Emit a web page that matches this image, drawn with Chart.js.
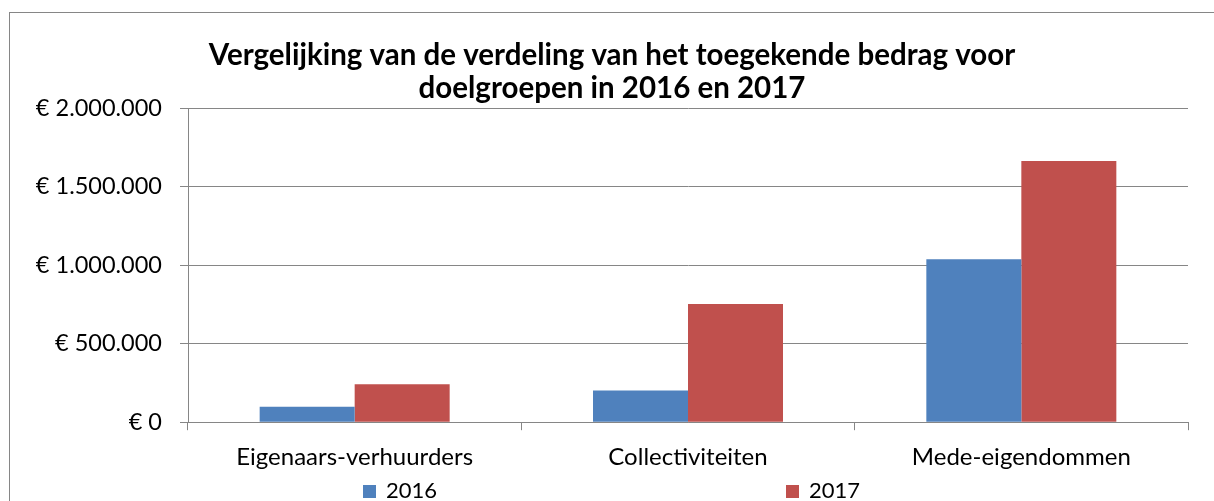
<!DOCTYPE html>
<html>
<head>
<meta charset="utf-8">
<script src="https://cdn.jsdelivr.net/npm/chart.js@4/dist/chart.umd.min.js"></script>
<style>
  html, body { margin: 0; padding: 0; background: #fff; }
  #wrap { width: 1214px; height: 501px; }
</style>
</head>
<body>
<div id="wrap"><canvas id="barChart" width="1214" height="501"></canvas></div>
<script>
var categories = ["Eigenaars-verhuurders", "Collectiviteiten", "Mede-eigendommen"];
var values2016 = [99000, 202000, 1038000];
var values2017 = [241000, 753000, 1663000];
var seriesNames = ["2016", "2017"];
var seriesColors = ["#4F81BD", "#C0504D"];
var titleLines = ["Vergelijking van de verdeling van het toegekende bedrag voor", "doelgroepen in 2016 en 2017"];

Chart.defaults.font.family = "Lato";
Chart.defaults.color = "#000";

function euro(v) {
  var s = String(Math.round(v)).replace(/\B(?=(\d{3})+(?!\d))/g, ".");
  return "€ " + s;
}

// outer frame of the chart object
var framePlugin = {
  id: "frame",
  beforeDraw: function (chart) {
    var ctx = chart.ctx;
    ctx.save();
    ctx.strokeStyle = "#868686";
    ctx.lineWidth = 1;
    ctx.strokeRect(9.5, 12.5, chart.width + 20, chart.height + 20);
    ctx.restore();
  }
};

// Excel style legend with the two entries spread far apart
var spreadLegend = {
  id: "spreadLegend",
  afterDraw: function (chart) {
    var ctx = chart.ctx;
    var area = chart.chartArea;
    var xs = [area.left + 175, area.left + 598];
    var y = chart.height - 10;
    ctx.save();
    ctx.font = "22px Lato";
    ctx.textBaseline = "middle";
    chart.data.datasets.forEach(function (ds, i) {
      ctx.fillStyle = ds.backgroundColor;
      ctx.fillRect(xs[i], y - 6, 13, 13);
      ctx.fillStyle = "#000";
      ctx.fillText(ds.label, xs[i] + 23, y);
    });
    ctx.restore();
  }
};

new Chart(document.getElementById("barChart"), {
  type: "bar",
  data: {
    labels: categories,
    datasets: [
      { label: seriesNames[0], data: values2016, backgroundColor: seriesColors[0] },
      { label: seriesNames[1], data: values2017, backgroundColor: seriesColors[1] }
    ]
  },
  options: {
    responsive: false,
    animation: false,
    layout: { padding: { left: 36, right: 26, top: 0, bottom: 16 } },
    datasets: {
      bar: { categoryPercentage: 0.57, barPercentage: 1.0, borderWidth: 0 }
    },
    plugins: {
      legend: { display: false },
      tooltip: { enabled: false },
      title: {
        display: true,
        text: titleLines,
        color: "#000",
        font: { size: 29.5, weight: "bold", lineHeight: 1.12 },
        padding: { top: 39, bottom: 3 }
      }
    },
    scales: {
      x: {
        grid: {
          offset: true,
          drawOnChartArea: false,
          drawTicks: true,
          tickLength: 8,
          color: "#868686"
        },
        border: { color: "#868686", width: 1 },
        ticks: { font: { size: 24 }, color: "#000", padding: 13 }
      },
      y: {
        min: 0,
        max: 2000000,
        afterFit: function (scale) { scale.width = 152; },
        grid: { color: "#868686", tickLength: 8, drawTicks: true },
        border: { color: "#868686", width: 1 },
        ticks: {
          stepSize: 500000,
          font: { size: 23.5 },
          color: "#000",
          padding: 18,
          callback: function (v) { return euro(v); }
        }
      }
    }
  },
  plugins: [framePlugin, spreadLegend]
});
</script>
</body>
</html>
